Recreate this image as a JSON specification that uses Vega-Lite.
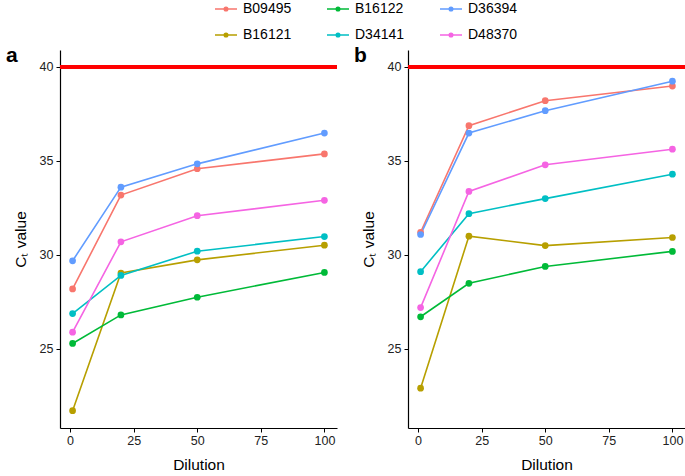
{
  "$schema": "https://vega.github.io/schema/vega-lite/v6.json",
  "padding": {"left": 6, "top": 2, "right": 0, "bottom": 0},
  "data": {"values": [
    {"panel": "a", "sample": "B09495", "dilution": 1, "ct": 28.18},
    {"panel": "a", "sample": "B09495", "dilution": 20, "ct": 33.18},
    {"panel": "a", "sample": "B09495", "dilution": 50, "ct": 34.58},
    {"panel": "a", "sample": "B09495", "dilution": 100, "ct": 35.37},
    {"panel": "a", "sample": "B16121", "dilution": 1, "ct": 21.7},
    {"panel": "a", "sample": "B16121", "dilution": 20, "ct": 29.03},
    {"panel": "a", "sample": "B16121", "dilution": 50, "ct": 29.73},
    {"panel": "a", "sample": "B16121", "dilution": 100, "ct": 30.51},
    {"panel": "a", "sample": "B16122", "dilution": 1, "ct": 25.28},
    {"panel": "a", "sample": "B16122", "dilution": 20, "ct": 26.8},
    {"panel": "a", "sample": "B16122", "dilution": 50, "ct": 27.74},
    {"panel": "a", "sample": "B16122", "dilution": 100, "ct": 29.06},
    {"panel": "a", "sample": "D34141", "dilution": 1, "ct": 26.87},
    {"panel": "a", "sample": "D34141", "dilution": 20, "ct": 28.9},
    {"panel": "a", "sample": "D34141", "dilution": 50, "ct": 30.19},
    {"panel": "a", "sample": "D34141", "dilution": 100, "ct": 30.97},
    {"panel": "a", "sample": "D36394", "dilution": 1, "ct": 29.68},
    {"panel": "a", "sample": "D36394", "dilution": 20, "ct": 33.6},
    {"panel": "a", "sample": "D36394", "dilution": 50, "ct": 34.84},
    {"panel": "a", "sample": "D36394", "dilution": 100, "ct": 36.48},
    {"panel": "a", "sample": "D48370", "dilution": 1, "ct": 25.88},
    {"panel": "a", "sample": "D48370", "dilution": 20, "ct": 30.69},
    {"panel": "a", "sample": "D48370", "dilution": 50, "ct": 32.08},
    {"panel": "a", "sample": "D48370", "dilution": 100, "ct": 32.9},
    {"panel": "b", "sample": "B09495", "dilution": 1, "ct": 31.2},
    {"panel": "b", "sample": "B09495", "dilution": 20, "ct": 36.87},
    {"panel": "b", "sample": "B09495", "dilution": 50, "ct": 38.2},
    {"panel": "b", "sample": "B09495", "dilution": 100, "ct": 38.98},
    {"panel": "b", "sample": "B16121", "dilution": 1, "ct": 22.9},
    {"panel": "b", "sample": "B16121", "dilution": 20, "ct": 30.99},
    {"panel": "b", "sample": "B16121", "dilution": 50, "ct": 30.49},
    {"panel": "b", "sample": "B16121", "dilution": 100, "ct": 30.92},
    {"panel": "b", "sample": "B16122", "dilution": 1, "ct": 26.7},
    {"panel": "b", "sample": "B16122", "dilution": 20, "ct": 28.48},
    {"panel": "b", "sample": "B16122", "dilution": 50, "ct": 29.38},
    {"panel": "b", "sample": "B16122", "dilution": 100, "ct": 30.18},
    {"panel": "b", "sample": "D34141", "dilution": 1, "ct": 29.1},
    {"panel": "b", "sample": "D34141", "dilution": 20, "ct": 32.19},
    {"panel": "b", "sample": "D34141", "dilution": 50, "ct": 32.99},
    {"panel": "b", "sample": "D34141", "dilution": 100, "ct": 34.29},
    {"panel": "b", "sample": "D36394", "dilution": 1, "ct": 31.08},
    {"panel": "b", "sample": "D36394", "dilution": 20, "ct": 36.48},
    {"panel": "b", "sample": "D36394", "dilution": 50, "ct": 37.67},
    {"panel": "b", "sample": "D36394", "dilution": 100, "ct": 39.24},
    {"panel": "b", "sample": "D48370", "dilution": 1, "ct": 27.19},
    {"panel": "b", "sample": "D48370", "dilution": 20, "ct": 33.37},
    {"panel": "b", "sample": "D48370", "dilution": 50, "ct": 34.79},
    {"panel": "b", "sample": "D48370", "dilution": 100, "ct": 35.62}
  ]},
  "spacing": 15,
  "hconcat": [
    {
      "title": {"text": "a"},
      "width": 277,
      "height": 378,
      "transform": [{"filter": "datum.panel == 'a'"}],
      "encoding": {
        "x": {"field": "dilution", "type": "quantitative", "scale": {"domain": [-3.95, 104.95], "nice": false, "zero": false}, "axis": {"values": [0, 25, 50, 75, 100], "title": "Dilution"}},
        "y": {"field": "ct", "type": "quantitative", "scale": {"domain": [20.78, 40.9], "nice": false, "zero": false}, "axis": {"values": [25, 30, 35, 40], "title": "Cₜ value"}},
        "color": {"field": "sample", "type": "nominal",
          "scale": {"domain": ["B09495", "B16121", "B16122", "D34141", "D36394", "D48370"], "range": ["#F8766D", "#B79F00", "#00BA38", "#00BFC4", "#619CFF", "#F564E3"]},
          "legend": {"orient": "none", "legendX": 159, "legendY": -48, "columns": 3, "title": null, "symbolType": "M-2.2,0L2.2,0M-0.35,0A0.35,0.35 0 1,1 0.35,0A0.35,0.35 0 1,1 -0.35,0", "symbolSize": 100, "symbolStrokeWidth": 1.6, "labelFontSize": 14, "labelColor": "#000", "columnPadding": 31, "rowPadding": 12, "labelOffset": 10,
            "encode": {"symbols": {"update": {"stroke": {"scale": "color", "field": "value"}, "strokeWidth": {"value": 1.6}}}}}}
      },
      "layer": [
        {"mark": {"type": "rule", "color": "#FF0000", "strokeWidth": 3}, "encoding": {"y": {"datum": 40, "type": "quantitative"}, "x": null, "color": null}},
        {"mark": {"type": "line", "strokeWidth": 1.6}},
        {"mark": {"type": "point", "filled": true, "size": 45, "opacity": 1}}
      ]
    },
    {
      "title": {"text": "b"},
      "width": 277,
      "height": 378,
      "transform": [{"filter": "datum.panel == 'b'"}],
      "encoding": {
        "x": {"field": "dilution", "type": "quantitative", "scale": {"domain": [-3.95, 104.95], "nice": false, "zero": false}, "axis": {"values": [0, 25, 50, 75, 100], "title": "Dilution"}},
        "y": {"field": "ct", "type": "quantitative", "scale": {"domain": [20.78, 40.9], "nice": false, "zero": false}, "axis": {"values": [25, 30, 35, 40], "title": "Cₜ value"}},
        "color": {"field": "sample", "type": "nominal"}
      },
      "layer": [
        {"mark": {"type": "rule", "color": "#FF0000", "strokeWidth": 3}, "encoding": {"y": {"datum": 40, "type": "quantitative"}, "x": null, "color": null}},
        {"mark": {"type": "line", "strokeWidth": 1.6}},
        {"mark": {"type": "point", "filled": true, "size": 45, "opacity": 1}}
      ]
    }
  ],
  "resolve": {"scale": {"x": "independent", "y": "independent", "color": "shared"}},
  "config": {
    "font": "Liberation Sans",
    "view": {"stroke": null},
    "title": {"anchor": "start", "frame": "bounds", "fontSize": 21, "fontWeight": "bold", "color": "#000", "font": "Liberation Sans", "baseline": "alphabetic", "offset": -16, "dx": -7},
    "axis": {"grid": false, "domainColor": "#000", "domainWidth": 1.2, "tickColor": "#000", "tickSize": 4, "labelColor": "#222", "labelFontSize": 12.5, "titleFontSize": 15.5, "titleFontWeight": "normal", "titleColor": "#000"},
    "axisX": {"labelPadding": 2, "titlePadding": 11},
    "axisY": {"labelPadding": 3, "titlePadding": 11}
  }
}
